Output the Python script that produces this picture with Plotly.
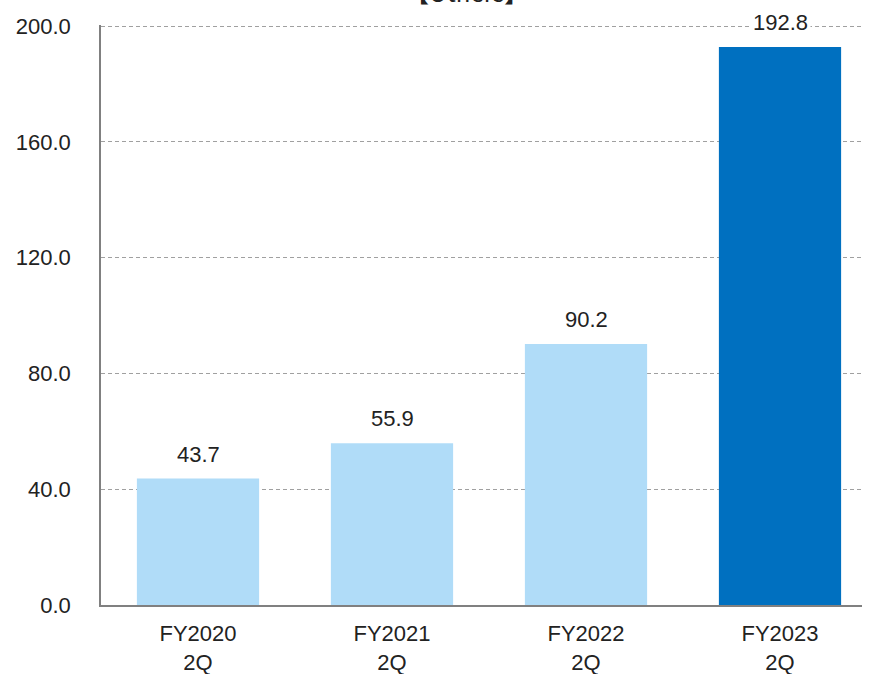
import plotly.graph_objects as go

# Quarterly figures for the "Others" segment
categories = ["FY2020<br>2Q", "FY2021<br>2Q", "FY2022<br>2Q", "FY2023<br>2Q"]
values = [43.7, 55.9, 90.2, 192.8]
bar_colors = ["#b0dcf8", "#b0dcf8", "#b0dcf8", "#0070c0"]
y_ticks = [0, 40, 80, 120, 160, 200]

FONT = "Liberation Sans, Arial, sans-serif"
TEXT = "#222222"

fig = go.Figure()
fig.add_trace(go.Bar(
    x=list(range(len(categories))),
    y=values,
    marker=dict(color=bar_colors, line=dict(width=0)),
    width=0.63,
    hoverinfo="skip",
))

# Value labels above each bar, with a white backing that breaks the gridline
for i, v in enumerate(values):
    fig.add_annotation(
        x=i, y=v, text=f"{v:.1f}", showarrow=False,
        yanchor="bottom", yshift=9,
        font=dict(family=FONT, size=22, color=TEXT),
        bgcolor="white", borderpad=2,
    )

# Segment title at the top
fig.add_annotation(
    x=0.48, y=1, xref="paper", yref="paper",
    text="【Others】", showarrow=False,
    xanchor="center", yanchor="bottom", yshift=14,
    font=dict(family="Noto Sans CJK JP, " + FONT, size=24, color=TEXT),
)

fig.update_layout(
    width=874, height=674,
    margin=dict(l=101, r=12, t=25, b=69),
    paper_bgcolor="white", plot_bgcolor="white",
    showlegend=False,
    font=dict(family=FONT, size=22, color=TEXT),
)

fig.update_xaxes(
    range=[-0.5, -0.5 + 761 / 194],
    tickvals=list(range(len(categories))),
    ticktext=categories,
    showline=True, linecolor="#808080", linewidth=1.5,
    showgrid=False, zeroline=False, automargin=False,
    ticks="", ticklabelstandoff=8,
    tickfont=dict(family=FONT, size=22, color=TEXT),
)

fig.update_yaxes(
    range=[0, 200.4],
    tickvals=y_ticks,
    ticktext=[f"{t:.1f}" for t in y_ticks],
    showline=True, linecolor="#808080", linewidth=1.5,
    showgrid=True, gridcolor="#a0a0a0", griddash="4px,3px", gridwidth=1,
    zeroline=False, automargin=False,
    ticks="", ticklabelstandoff=24,
    tickfont=dict(family=FONT, size=22, color=TEXT),
)

fig.write_html("out.html")
